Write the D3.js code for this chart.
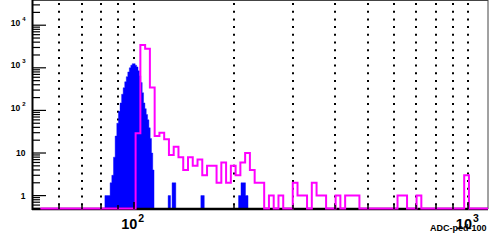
<!DOCTYPE html>
<html>
<head>
<meta charset="utf-8">
<title>ADC-ped-100</title>
<style>
  body { margin: 0; background: #fff; }
  svg { display: block; }
  text { font-family: 'Liberation Sans', Arial, sans-serif; font-weight: bold; fill: #000; }
</style>
</head>
<body>
<svg width="489" height="244"></svg>
<script src="https://d3js.org/d3.v7.min.js"></script>
<script>
// x axis (log): grid lines, labelled decades
const xGrid = [60, 70, 80, 90, 100, 200, 300, 400, 500, 600, 700, 800, 900, 1000];
const xLabelVals = [100, 1000];
const xLabelExp = ["2", "3"];
const xTitle = "ADC-ped-100";

// y axis (log): labelled decades
const yMajor = [1, 10, 100, 1000, 10000];
const yLabelBase = ["1", "10", "10", "10", "10"];
const yLabelExp = ["", "", "2", "3", "4"];

// blue filled histogram: bin edges (ADC) and counts
const blueEdges = [82, 83, 84, 85, 86, 87, 88, 89, 90, 91, 92, 93, 94, 95, 96, 97, 98, 99,
  100, 101, 102, 103, 104, 105, 106, 107, 108, 109, 110, 111, 112, 113, 114, 115,
  126.7, 128.8, 130.2, 133.6, 158.7, 162.5, 205.7, 209.2, 215.8, 219.6];
const blueCounts = [1, 1, 1, 2, 3, 8, 25, 50, 95, 150, 240, 340, 470, 620, 800, 1000, 1150, 1250,
  1250, 1150, 1050, 850, 650, 450, 260, 150, 110, 80, 60, 39, 22, 10, 4,
  0, 1, 0, 2, 0, 1, 0, 1, 2, 1];

// magenta outline histogram: 94 log-spaced bins between magLo and magHi
const magLo = 52.6, magHi = 1145;
const magCounts = [
  0, 0, 0, 0, 0, 0, 0, 0, 0, 0, 0, 0, 0, 0, 0, 0, 0, 0, 0, 0,
  29, 3440, 2800, 345, 25, 30, 21, 9, 14, 8,
  4, 8, 5, 7, 3, 5, 5, 2, 6, 2,
  5, 3, 6, 10, 4, 2, 2, 0, 1, 0,
  1, 0, 0, 2, 1, 1, 0, 2, 1, 1,
  0, 0, 1, 0, 1, 1, 1, 0, 0, 0,
  0, 0, 0, 0, 0, 1, 1, 0, 0, 1,
  0, 0, 0, 0, 0, 0, 0, 0, 0, 3,
  0, 0, 0, 0];

const svg = d3.select("svg");
const fr = { left: 33, right: 488, top: 1, bottom: 209 };

let x = d3.scaleLog().domain([50, 1145]).range([fr.left, fr.right]);
let y = d3.scaleLog().domain([0.485, 37000]).range([fr.bottom, fr.top]);
let yv = v => v > 0 ? Math.max(fr.top, Math.min(fr.bottom - 0.5, y(v))) : fr.bottom - 0.5;

// dotted grid
svg.append("g").selectAll("line")
  .data(xGrid)
  .join("line")
    .attr("x1", d => Math.round(x(d)))
    .attr("x2", d => Math.round(x(d)))
    .attr("y1", fr.top + 2)
    .attr("y2", fr.bottom)
    .attr("stroke", "#000")
    .attr("stroke-width", 2)
    .attr("stroke-dasharray", "2 5.7")

// blue histogram
let bluePts = [];
blueCounts.forEach((c, i) => {
  bluePts.push([blueEdges[i], c]);
  bluePts.push([blueEdges[i + 1], c]);
});
let blueArea = d3.area()
  .x(d => x(d[0]))
  .y0(fr.bottom)
  .y1(d => d[1] > 0 ? y(d[1]) : fr.bottom);
svg.append("path")
  .datum(bluePts)
  .attr("d", blueArea)
  .attr("fill", "#0000ff")
  .attr("stroke", "#0000ff")
  .attr("stroke-width", 0.4)

// frame
svg.append("rect")
  .attr("x", fr.left - 0.5).attr("y", fr.top - 0.5)
  .attr("width", fr.right - fr.left + 0.5).attr("height", fr.bottom - fr.top)
  .attr("fill", "none").attr("stroke", "#444").attr("stroke-width", 1)
svg.append("line")
  .attr("x1", fr.left - 1).attr("x2", fr.right).attr("y1", fr.bottom).attr("y2", fr.bottom)
  .attr("stroke", "#000").attr("stroke-width", 2.5)

// magenta histogram
let N = magCounts.length;
let magEdges = d3.range(N + 1).map(i => magLo * Math.pow(magHi / magLo, i / N));
let magPts = [[magEdges[0], 0]];
magCounts.forEach((c, i) => {
  magPts.push([magEdges[i], c]);
  magPts.push([magEdges[i + 1], c]);
});
let magLine = d3.line()
  .x(d => x(d[0]))
  .y(d => yv(d[1]));
svg.append("path")
  .datum(magPts)
  .attr("d", magLine)
  .attr("fill", "none")
  .attr("stroke", "#ff00ff")
  .attr("stroke-width", 2)

// left axis line and ticks
svg.append("line")
  .attr("x1", fr.left - 0.5).attr("x2", fr.left - 0.5).attr("y1", fr.top - 1).attr("y2", fr.bottom + 1)
  .attr("stroke", "#000").attr("stroke-width", 2)

let yTicks = [];
[-1, 0, 1, 2, 3, 4].forEach(e => {
  for (let m = 1; m <= 9; m++) {
    let v = m * Math.pow(10, e);
    if (v >= y.domain()[0] && v <= y.domain()[1]) yTicks.push({ v: v, major: m === 1 });
  }
});
svg.append("g").selectAll("line")
  .data(yTicks)
  .join("line")
    .attr("x1", fr.left)
    .attr("x2", d => fr.left + (d.major ? 13 : 7))
    .attr("y1", d => y(d.v))
    .attr("y2", d => y(d.v))
    .attr("stroke", "#000")
    .attr("stroke-width", 1.2)

// small x ticks at the bottom
svg.append("g").selectAll("line")
  .data(xGrid)
  .join("line")
    .attr("x1", d => Math.round(x(d)))
    .attr("x2", d => Math.round(x(d)))
    .attr("y1", fr.bottom)
    .attr("y2", d => fr.bottom - (xLabelVals.includes(d) ? 7 : 4))
    .attr("stroke", "#000")
    .attr("stroke-width", 1.5)

// y labels
yMajor.forEach((v, i) => {
  let t = svg.append("text")
    .attr("x", 25.5)
    .attr("text-anchor", "end")
    .style("font-size", "8.5px");
  if (yLabelExp[i] === "") {
    t.attr("y", y(v) + 3).text(yLabelBase[i]);
  } else {
    t.attr("y", y(v) + 0.5);
    t.append("tspan").text(yLabelBase[i]);
    t.append("tspan").attr("dx", 2).attr("dy", -5).style("font-size", "6px").text(yLabelExp[i]);
  }
});

// x labels
svg.append("text")
  .attr("x", fr.right - 1.5)
  .attr("y", 230.5)
  .attr("text-anchor", "end")
  .style("font-size", "9px")
  .text(xTitle)

xLabelVals.forEach((v, i) => {
  let t = svg.append("text")
    .attr("x", x(v) - 1)
    .attr("y", 229)
    .attr("text-anchor", "middle")
    .style("font-size", "14.5px");
  t.append("tspan").text("10");
  t.append("tspan").attr("dx", 1).attr("dy", -7.5).style("font-size", "10.5px").text(xLabelExp[i]);
});
</script>
</body>
</html>
